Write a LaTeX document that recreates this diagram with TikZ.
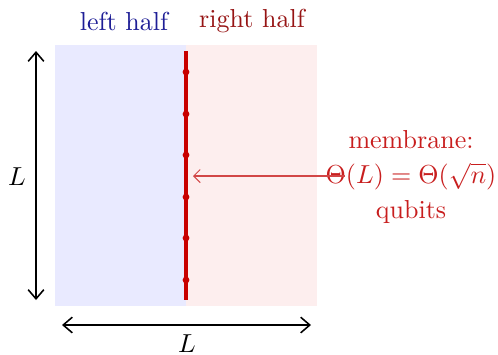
\documentclass[tikz,border=0pt]{standalone}
\usetikzlibrary{arrows.meta}
\definecolor{lblue}{RGB}{233,234,255}
\definecolor{lpink}{RGB}{253,238,238}
\definecolor{dblue}{RGB}{30,30,150}
\definecolor{dred}{RGB}{150,20,20}
\definecolor{mred}{RGB}{200,0,0}
\definecolor{tred}{RGB}{200,30,30}
\definecolor{ared}{RGB}{210,70,70}
\begin{document}
\begin{tikzpicture}[x=0.3846pt,y=-0.3846pt,
  dim/.style={semithick,{Straight Barb[length=3.5pt,width=6pt]}-{Straight Barb[length=3.5pt,width=6pt]}},
  qdot/.style={circle,fill=mred,inner sep=0pt,minimum size=2.6pt}]
\useasboundingbox (0,0) rectangle (498,354);
\fill[lblue] (55,45) rectangle (186,306);
\fill[lpink] (186,45) rectangle (317,306);
\node[text=dblue] (lh) at (124,21) {left half};
\node[text=dred] (rh) at (252,21) {right half};
\coordinate (mt) at (186,51);
\coordinate (mb) at (186,300);
\draw[mred,line width=1.6pt] (mt) -- (mb);
\foreach \i/\yy in {1/72,2/114,3/155,4/197,5/238,6/280}
  \node[qdot] (q\i) at (186,\yy) {};
\coordinate (vt) at (36,51);
\coordinate (vb) at (36,300);
\draw[dim] (vt) -- (vb);
\node (lv) at (17,177) {$L$};
\coordinate (hl) at (62,325);
\coordinate (hr) at (311,325);
\draw[dim] (hl) -- (hr);
\node (lhz) at (187,344) {$L$};
\node[text=tred,align=center] (mem) at (411,177) {membrane:\\[1.5pt]$\Theta(L)=\Theta(\sqrt{n})$\\[1.5pt]qubits};
\coordinate (as) at (345,176);
\coordinate (ae) at (193,176);
\draw[ared,{Straight Barb[length=2.5pt,width=5pt]}-] (ae) -- (as);
\end{tikzpicture}
\end{document}
